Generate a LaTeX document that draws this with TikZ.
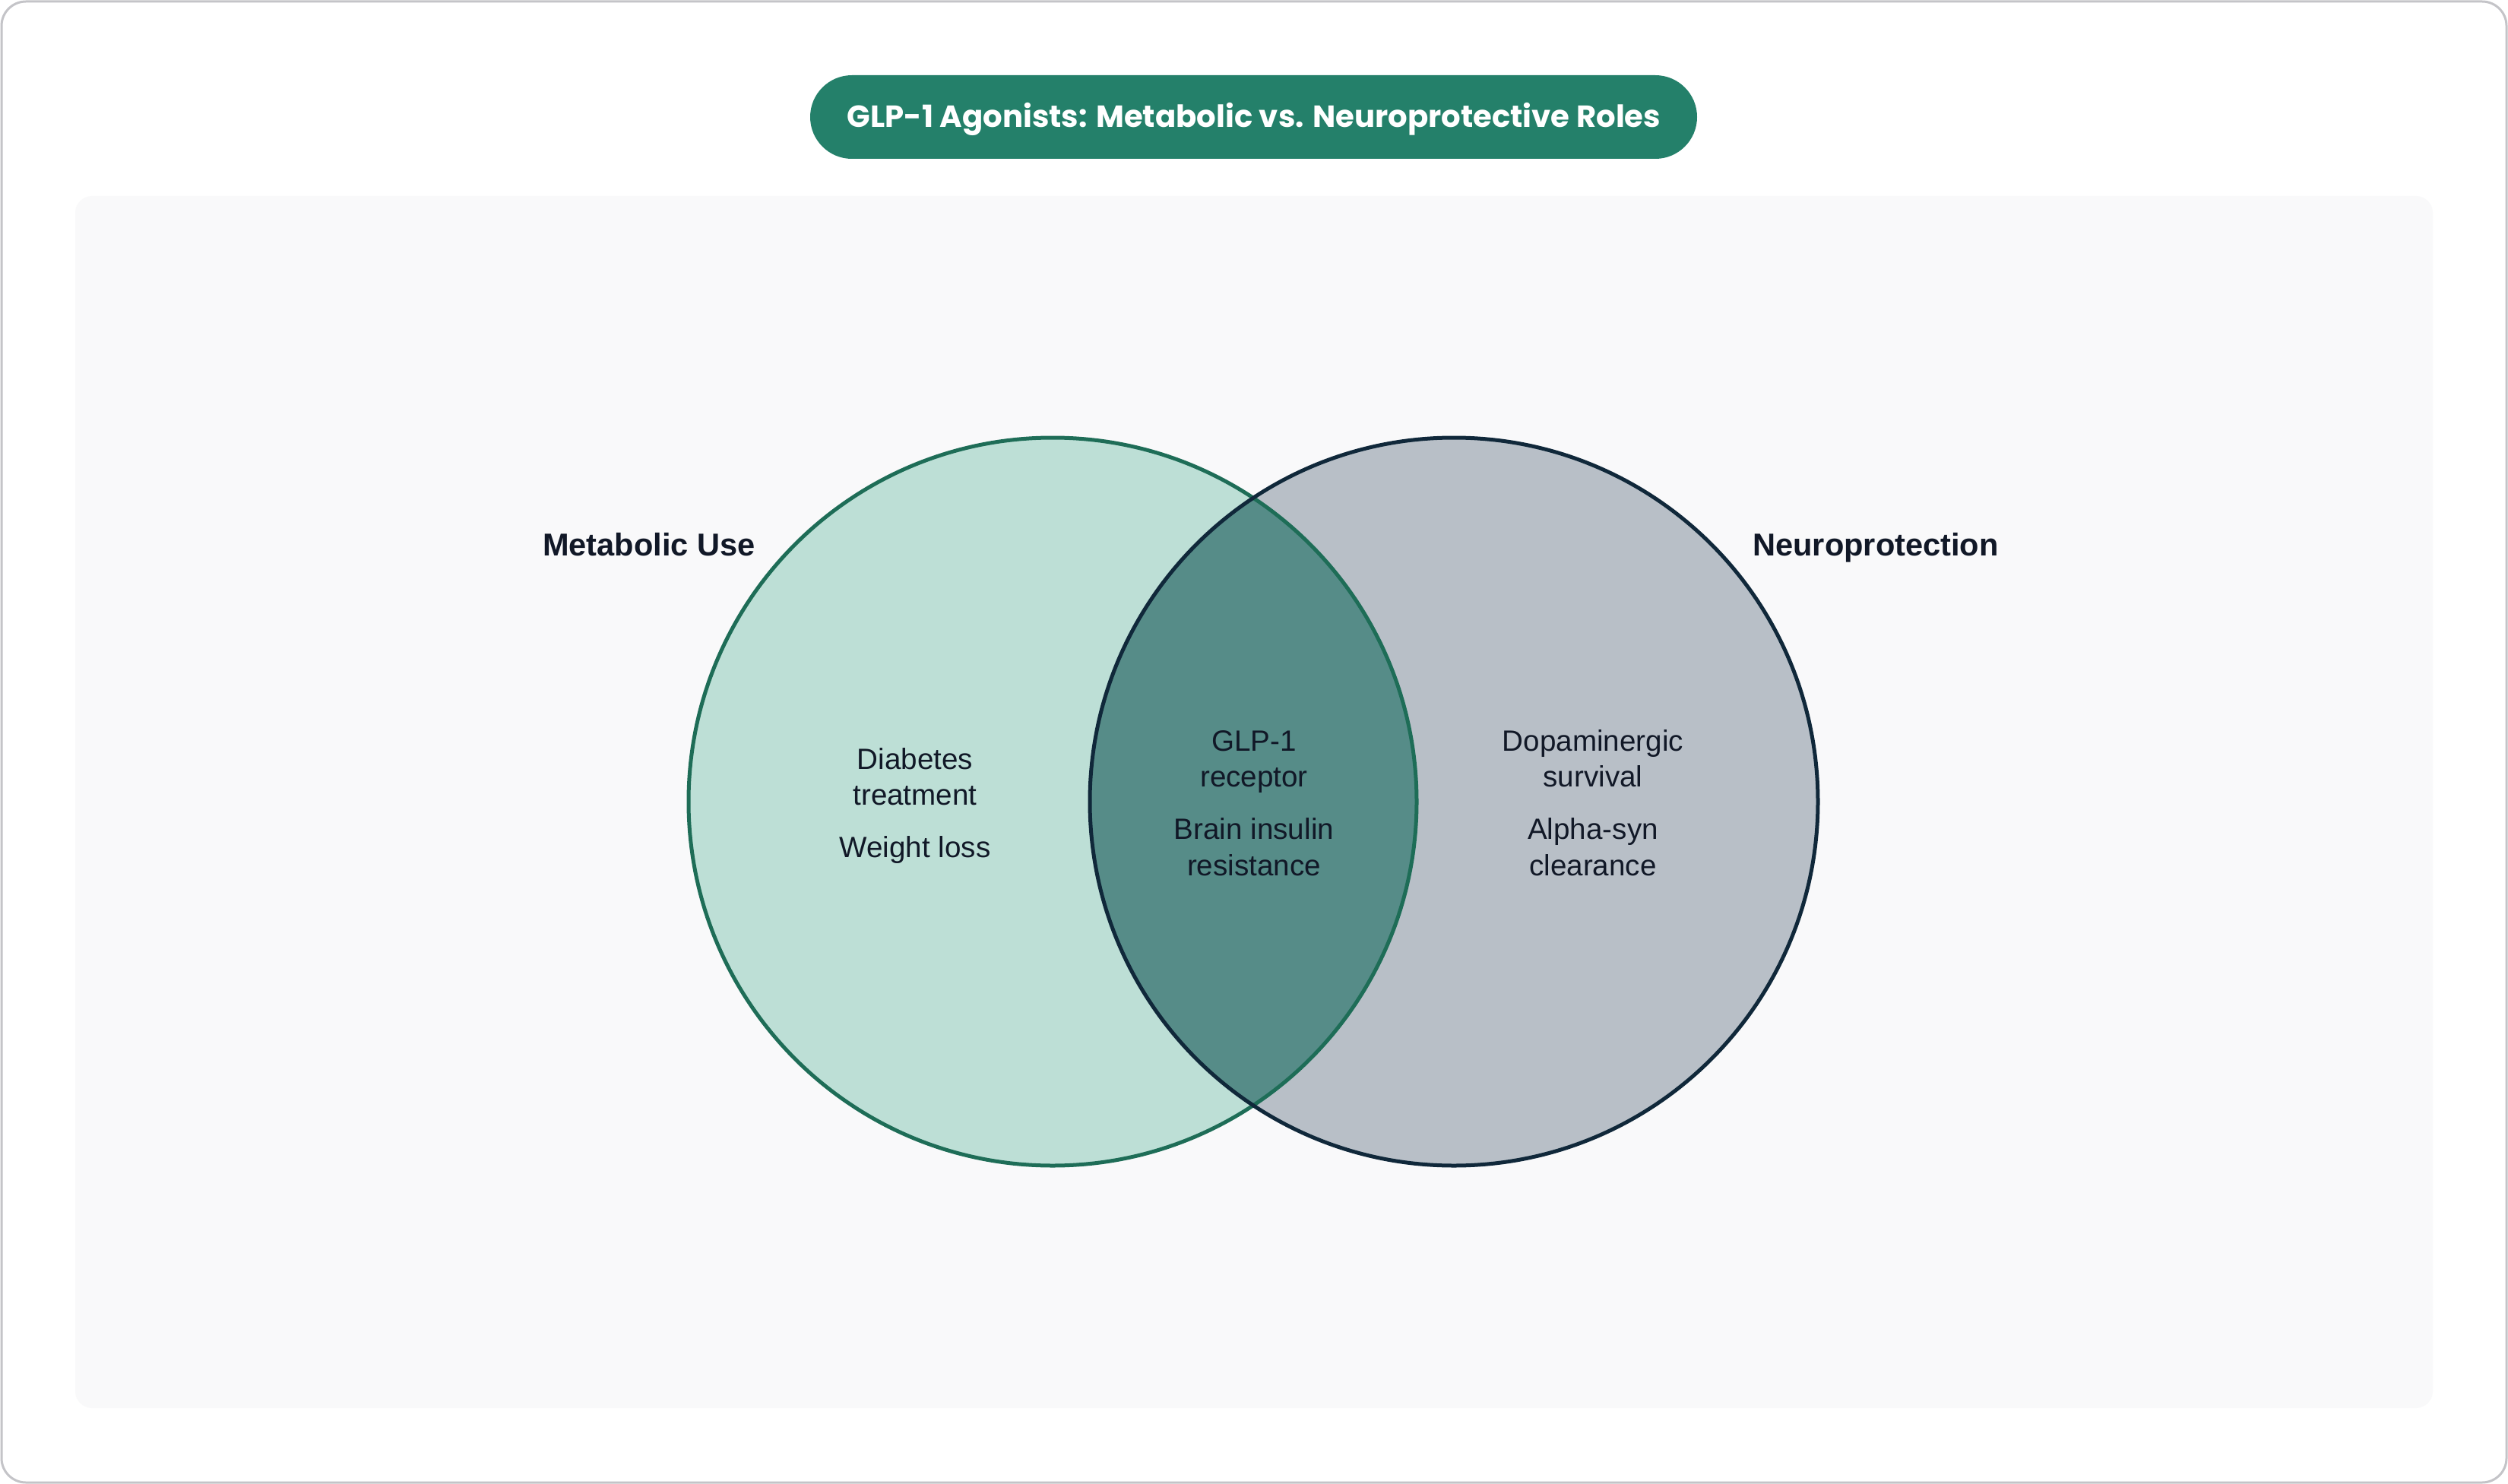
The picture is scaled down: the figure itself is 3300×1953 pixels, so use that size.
\documentclass[tikz,border=0pt]{standalone}
\usepackage{fontspec}
\setmainfont{Liberation Sans}
\newfontfamily\titlefont{Poppins}
\definecolor{bordergray}{HTML}{C4C4C8}
\definecolor{panelbg}{HTML}{F9F9FA}
\definecolor{pillgreen}{HTML}{24806A}
\definecolor{leftfill}{HTML}{BDDFD6}
\definecolor{rightfill}{HTML}{B8BFC7}
\definecolor{midfill}{HTML}{568C88}
\definecolor{leftline}{HTML}{1E6D57}
\definecolor{rightline}{HTML}{10283A}
\definecolor{ink}{HTML}{111827}
\tikzset{
  bodytext/.style={anchor=base, text=ink, inner sep=0pt, font=\fontsize{19.3pt}{23.5pt}\selectfont},
  setlabel/.style={anchor=base, text=ink, inner sep=0pt, font=\fontsize{20.8pt}{24pt}\selectfont\bfseries},
}
\begin{document}
\begin{tikzpicture}[x=0.5pt,y=-0.5pt]
\useasboundingbox (0,0) rectangle (3300,1953);
% outer frame
\draw[bordergray, line width=1.5pt, fill=white, rounded corners=16pt] (2,2) rectangle (3298,1951);
% panel
\fill[panelbg, rounded corners=11pt] (99,258) rectangle (3201,1853);
% title pill
\fill[pillgreen, rounded corners=27.5pt] (1066,99) rectangle (2233,209);
\node[text=white, inner sep=0pt, anchor=base, font=\titlefont\fontsize{20.1pt}{23pt}\selectfont\bfseries] (title) at (1650,168) {GLP-1 Agonists: Metabolic vs. Neuroprotective Roles};
% circles
\coordinate (lc) at (1385,1055);
\coordinate (rc) at (1913,1055);
\fill[leftfill] (lc) circle[radius=239.5pt];
\fill[rightfill] (rc) circle[radius=239.5pt];
\begin{scope}
  \clip (lc) circle[radius=239.5pt];
  \fill[midfill] (rc) circle[radius=239.5pt];
\end{scope}
\draw[leftline, line width=2.5pt] (lc) circle[radius=239.5pt];
\draw[rightline, line width=2.5pt] (rc) circle[radius=239.5pt];
% set labels
\node[setlabel] (lmet) at (854,731) {Metabolic Use};
\node[setlabel] (lneu) at (2468,731) {Neuroprotection};
% left region
\node[bodytext] (l1) at (1204,1012) {Diabetes};
\node[bodytext] (l2) at (1204,1059) {treatment};
\node[bodytext] (l3) at (1204,1128) {Weight loss};
% middle region
\node[bodytext] (m1) at (1650,988) {GLP-1};
\node[bodytext] (m2) at (1650,1035) {receptor};
\node[bodytext] (m3) at (1650,1104) {Brain insulin};
\node[bodytext] (m4) at (1650,1152) {resistance};
% right region
\node[bodytext] (r1) at (2096,988) {Dopaminergic};
\node[bodytext] (r2) at (2096,1035) {survival};
\node[bodytext] (r3) at (2096,1104) {Alpha-syn};
\node[bodytext] (r4) at (2096,1152) {clearance};
\end{tikzpicture}
\end{document}
